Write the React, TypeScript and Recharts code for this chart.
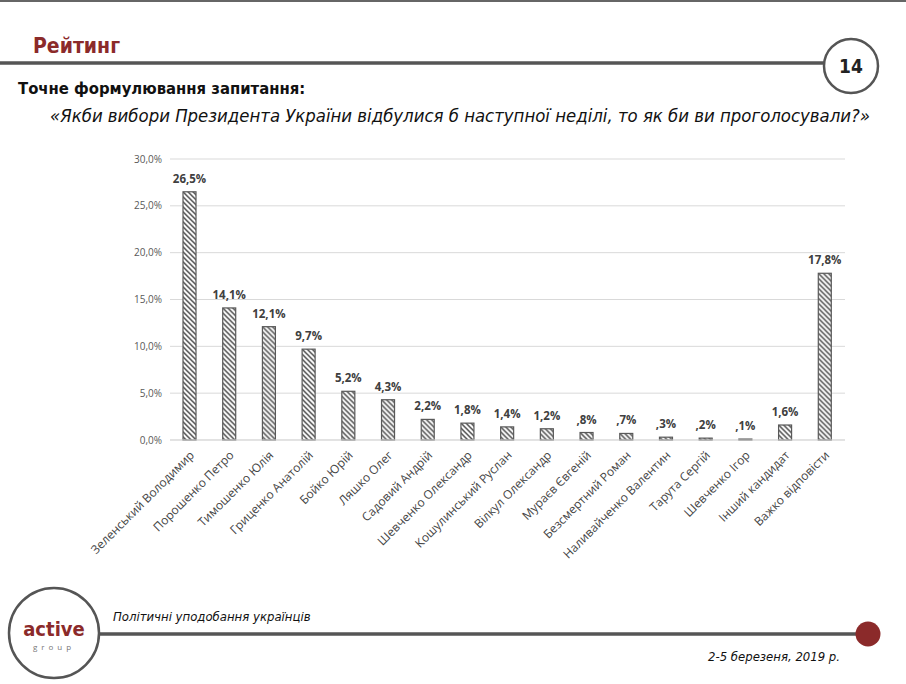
import React from "react";
import { BarChart, Bar, XAxis, YAxis, CartesianGrid, LabelList } from "recharts";

const categories = [
  "Зеленський Володимир",
  "Порошенко Петро",
  "Тимошенко Юлія",
  "Гриценко Анатолій",
  "Бойко Юрій",
  "Ляшко Олег",
  "Садовий Андрій",
  "Шевченко Олександр",
  "Кошулинський Руслан",
  "Вілкул Олександр",
  "Мураєв Євгеній",
  "Безсмертний Роман",
  "Наливайченко Валентин",
  "Тарута Сергій",
  "Шевченко Ігор",
  "Інший кандидат",
  "Важко відповісти",
];
const values = [26.5, 14.1, 12.1, 9.7, 5.2, 4.3, 2.2, 1.8, 1.4, 1.2, 0.8, 0.7, 0.3, 0.2, 0.1, 1.6, 17.8];
const yTicks = [0, 5, 10, 15, 20, 25, 30];

const data = categories.map((name, i) => ({ name, value: values[i] }));

const fmtTick = (v: number) => v.toFixed(1).replace(".", ",") + "%";
const fmtLabel = (v: number) => {
  const s = v.toFixed(1).replace(".", ",");
  return (s.startsWith("0") ? s.slice(1) : s) + "%";
};

const FONT = "'Open Sans', 'DejaVu Sans', sans-serif";
const COND = "'DejaVu Sans Condensed', 'Liberation Sans Narrow', 'DejaVu Sans', sans-serif";

const HatchBar = (props: any) => {
  const { x, y, width, height, index } = props;
  if (!height || height <= 0) return null;
  const id = `hatch-${index}`;
  return (
    <g>
      <defs>
        <pattern id={id} patternUnits="userSpaceOnUse" width={5} height={5} x={x} y={y}>
          <rect width={5} height={5} fill="#fff" />
          <path d="M-1,-1 L6,6 M-1,4 L1,6 M4,-1 L6,1" stroke="#4a4a4a" strokeWidth={1.5} />
        </pattern>
      </defs>
      <rect x={x} y={y} width={width} height={height} fill={`url(#${id})`} stroke="#595959" strokeWidth={1.2} />
    </g>
  );
};

const XTick = (props: any) => {
  const { x, y, payload } = props;
  return (
    <text
      x={x + 5}
      y={y + 8}
      transform={`rotate(-45 ${x + 5} ${y + 8})`}
      textAnchor="end"
      fontSize={12}
      fontFamily={FONT}
      fill="#454545"
    >
      {payload.value}
    </text>
  );
};

export default function App() {
  return (
    <div style={{ position: "absolute", left: 0, top: 0, width: 906, height: 684, background: "#fff", overflow: "hidden" }}>
      <svg width={906} height={684} style={{ position: "absolute", left: 0, top: 0 }}>
        <line x1={0} y1={1} x2={906} y2={1} stroke="#666" strokeWidth={2} />
        <text x={33} y={53} fontSize={21} fontWeight="bold" fontFamily={COND} fill="#8B2A2A">Рейтинг</text>
        <line x1={0} y1={63} x2={824} y2={63} stroke="#555" strokeWidth={3.5} />
        <circle cx={851} cy={66} r={27} fill="#fff" stroke="#555" strokeWidth={2.5} />
        <text x={851} y={73} textAnchor="middle" fontSize={19} fontWeight="bold" fontFamily={COND} fill="#222">14</text>
        <text x={18} y={94} fontSize={16.5} fontWeight="bold" fontFamily={COND} fill="#111">Точне формулювання запитання:</text>
        <text x={50} y={122} fontSize={17.5} fontStyle="italic" fontFamily={COND} fill="#111" textLength={820} lengthAdjust="spacingAndGlyphs">«Якби вибори Президента України відбулися б наступної неділі, то як би ви проголосували?»</text>

        <line x1={98} y1={634} x2={860} y2={634} stroke="#555" strokeWidth={3.5} />
        <circle cx={868} cy={634} r={12.5} fill="#8B2A2A" />
        <circle cx={54} cy={633} r={45} fill="#fff" stroke="#555" strokeWidth={2.5} />
        <text x={54} y={636} textAnchor="middle" fontSize={20} fontWeight="bold" fontFamily={COND} fill="#8B2A2A">active</text>
        <text x={54} y={650} textAnchor="middle" fontSize={8} fontFamily={FONT} fill="#777" letterSpacing={4}>group</text>
        <text x={113} y={621} fontSize={13} fontStyle="italic" fontFamily={COND} fill="#111">Політичні уподобання українців</text>
        <text x={840} y={661} textAnchor="end" fontSize={13} fontStyle="italic" fontFamily={COND} fill="#111">2-5 березеня, 2019 р.</text>
      </svg>
      <div style={{ position: "absolute", left: 0, top: 0 }}>
        <BarChart
          width={906}
          height={684}
          data={data}
          margin={{ top: 159, right: 61, bottom: 0, left: 125 }}
          barCategoryGap={0}
        >
          <CartesianGrid vertical={false} stroke="#d9d9d9" />
          <YAxis
            domain={[0, 30]}
            ticks={yTicks}
            tickFormatter={fmtTick}
            axisLine={false}
            tickLine={false}
            width={45}
            tick={{ fontSize: 10, fill: "#595959", fontFamily: FONT }}
            interval={0}
          />
          <XAxis
            dataKey="name"
            interval={0}
            tickLine={false}
            axisLine={{ stroke: "#d9d9d9" }}
            tick={<XTick />}
            height={244}
          />
          <Bar dataKey="value" barSize={13} shape={<HatchBar />} isAnimationActive={false}>
            <LabelList
              dataKey="value"
              position="top"
              offset={9}
              formatter={(v: any) => fmtLabel(Number(v))}
              style={{ fontSize: 11.5, fontWeight: "bold", fill: "#404040", fontFamily: FONT }}
            />
          </Bar>
        </BarChart>
      </div>
    </div>
  );
}
